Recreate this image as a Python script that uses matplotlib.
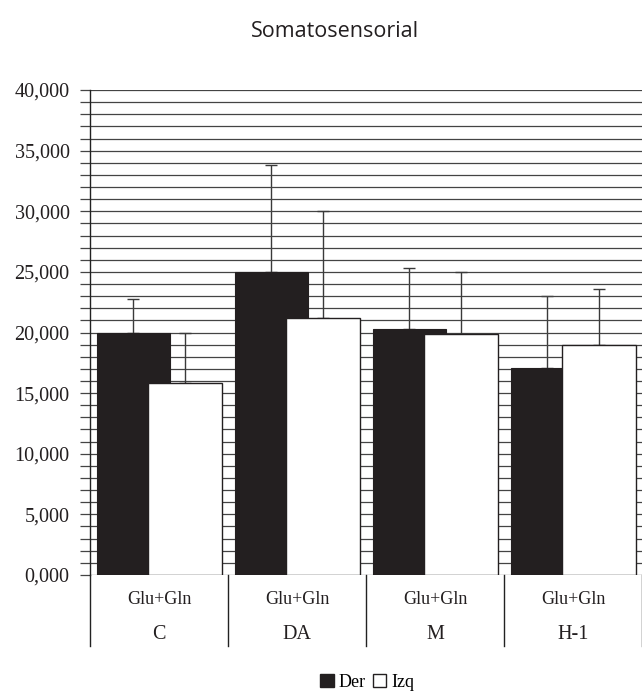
import numpy as np
import matplotlib.pyplot as plt
from matplotlib.patches import Patch

# Datos
grupos = ['C', 'DA', 'M', 'H-1']
subetiqueta = 'Glu+Gln'
der = [20.0, 25.0, 20.3, 17.1]
der_err = [2.8, 8.8, 5.0, 5.9]
izq = [15.8, 21.2, 19.9, 19.0]
izq_err = [4.2, 8.8, 5.1, 4.6]

serif = 'Liberation Serif'

fig = plt.figure(figsize=(6.42, 6.92), dpi=100)
ax = fig.add_axes([0.1402, 0.1691, 0.8598, 0.7008])

x = np.arange(len(grupos))

# Barras solapadas: negras (Der) y blancas (Izq) encima
ax.bar(x + 0.05, der, width=0.53, align='edge', color='#231f20',
       edgecolor='#231f20', linewidth=0.8, zorder=2)
ax.bar(x + 0.42, izq, width=0.536, align='edge', color='white',
       edgecolor='#231f20', linewidth=1.0, zorder=3)

# Barras de error solo hacia arriba
ax.errorbar(x + 0.05 + 0.265, der, yerr=[np.zeros(4), der_err], fmt='none',
            ecolor='#3a3a3a', elinewidth=1.0, capsize=4, capthick=1.0, zorder=1.5)
ax.errorbar(x + 0.42 + 0.268, izq, yerr=[np.zeros(4), izq_err], fmt='none',
            ecolor='#3a3a3a', elinewidth=1.0, capsize=4, capthick=1.0, zorder=2.5)

ax.set_xlim(0, 4)
ax.set_ylim(0, 40)

# Lineas horizontales cada 1,000
ax.set_yticks(np.arange(0, 41, 5))
ax.set_yticks(np.arange(0, 41, 1), minor=True)
ax.set_yticklabels([f'{v:.3f}'.replace('.', ',') for v in np.arange(0, 41, 5)],
                   fontfamily=serif, fontsize=14.5, color='#231f20')
ax.grid(axis='y', which='both', color='#444444', linewidth=0.9, zorder=0)
ax.tick_params(axis='y', which='both', direction='out', length=7.2,
               width=0.9, color='#444444', pad=7.5)
ax.set_xticks([])

for s in ['top', 'right', 'bottom']:
    ax.spines[s].set_visible(False)
ax.spines['left'].set_color('#222222')
ax.spines['left'].set_linewidth(1.0)

# Eje de categorias en dos niveles
trans = ax.get_xaxis_transform()
for xi in range(len(grupos) + 1):
    ax.plot([xi, xi], [0, -0.146], transform=trans, color='#222222',
            linewidth=1.0, clip_on=False)
for i, g in enumerate(grupos):
    ax.text(i + 0.5, -0.05, subetiqueta, transform=trans, ha='center',
            va='center', fontfamily=serif, fontsize=13, color='#231f20')
    ax.text(i + 0.5, -0.122, g, transform=trans, ha='center', va='center',
            fontfamily=serif, fontsize=14.5, color='#231f20')

fig.text(0.522, 0.954, 'Somatosensorial', ha='center', va='center',
         fontfamily='Open Sans', fontsize=15.5, color='#231f20')

handles = [Patch(facecolor='#231f20', edgecolor='#231f20', label='Der'),
           Patch(facecolor='white', edgecolor='#231f20', label='Izq')]
fig.legend(handles=handles, loc='center', bbox_to_anchor=(0.572, 0.014),
           ncol=2, frameon=False, handlelength=0.75, handleheight=0.75,
           handletextpad=0.25, columnspacing=0.4, borderpad=0,
           prop={'family': serif, 'size': 13})

fig.savefig('out.png', dpi=100)
